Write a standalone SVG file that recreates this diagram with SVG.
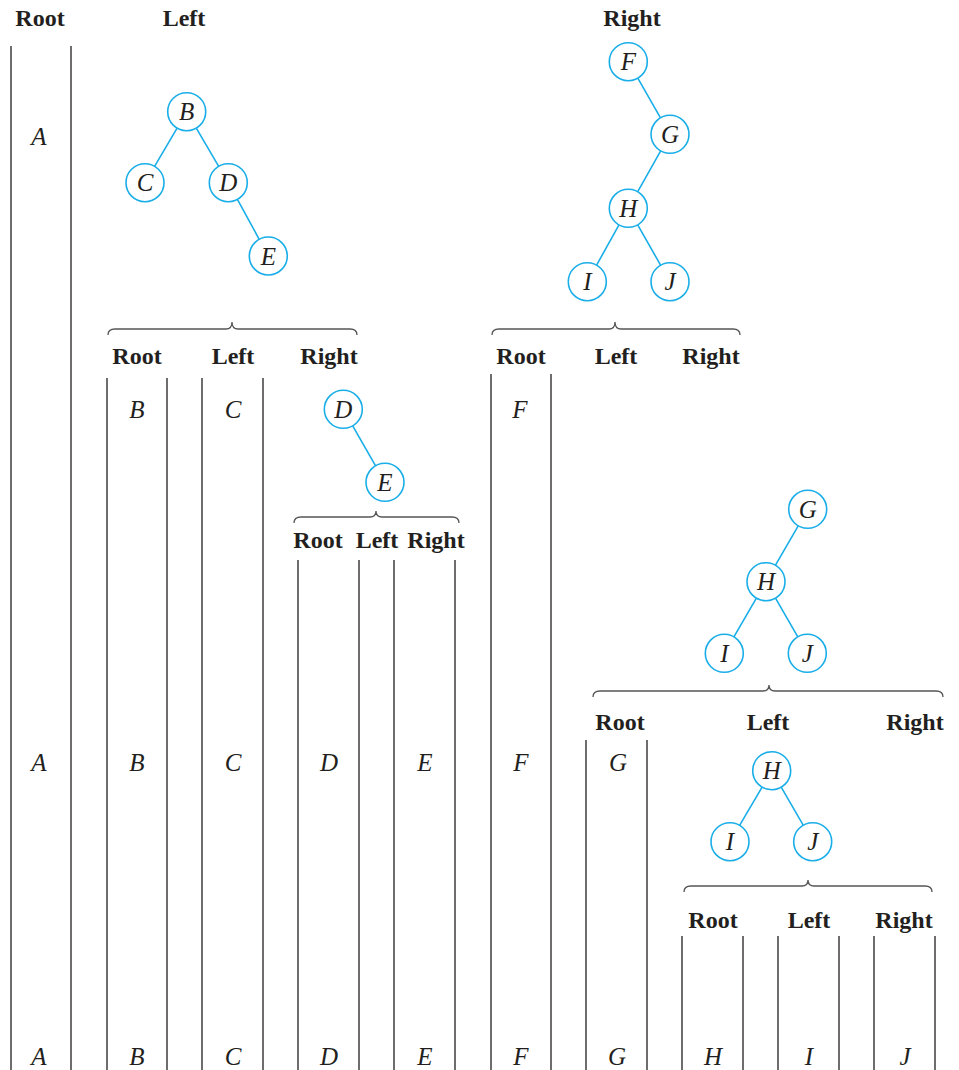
<svg xmlns="http://www.w3.org/2000/svg" width="959" height="1070" viewBox="0 0 959 1070">
<style>
.hd{font-family:"Liberation Serif","Times New Roman",serif;font-weight:bold;font-size:24px;fill:#231f20;text-anchor:middle}
.lt{font-family:"Liberation Serif","Times New Roman",serif;font-style:italic;font-size:25px;fill:#231f20;text-anchor:middle}
.col{stroke:#231f20;stroke-width:1.3;fill:none}
.br{stroke:#555;stroke-width:1.3;fill:none}
.nd{fill:#fff;stroke:#1aaee8;stroke-width:1.6}
.ed{stroke:#1aaee8;stroke-width:1.6;fill:none}
</style>
<rect width="959" height="1070" fill="#fff"/>
<g id="columns">
<path class="col" d="M11,46V1070M71,46V1070M107,378V1070M167,378V1070M202,378V1070M263,378V1070M491,374V1070M551,374V1070M298,560V1070M359,560V1070M394,560V1070M455,560V1070M586,740V1070M647,740V1070M682,936V1070M743,936V1070M778,936V1070M839,936V1070M874,936V1070M935,936V1070"/>
</g>
<g id="braces">
<path class="br" d="M108,335Q108,329 115,329H226Q232,329 232,322Q232,329 238,329H350Q357,329 357,335"/>
<path class="br" d="M492,335Q492,329 499,329H609Q615,329 615,322Q615,329 621,329H733Q740,329 740,335"/>
<path class="br" d="M294,523Q294,517 301,517H370Q376,517 376,511Q376,517 382,517H452Q459,517 459,523"/>
<path class="br" d="M593,697Q593,691 600,691H763Q769,691 769,685Q769,691 775,691H936Q943,691 943,697"/>
<path class="br" d="M684,892Q684,886 691,886H802Q808,886 808,880Q808,886 814,886H925Q932,886 932,892"/>
</g>
<g id="headers">
<text class="hd" x="40" y="26">Root</text>
<text class="hd" x="184" y="26">Left</text>
<text class="hd" x="632" y="26">Right</text>
<text class="hd" x="137" y="364">Root</text>
<text class="hd" x="233" y="364">Left</text>
<text class="hd" x="329" y="364">Right</text>
<text class="hd" x="521" y="364">Root</text>
<text class="hd" x="616" y="364">Left</text>
<text class="hd" x="711" y="364">Right</text>
<text class="hd" x="318" y="548">Root</text>
<text class="hd" x="377" y="548">Left</text>
<text class="hd" x="436" y="548">Right</text>
<text class="hd" x="620" y="730">Root</text>
<text class="hd" x="768" y="730">Left</text>
<text class="hd" x="915" y="730">Right</text>
<text class="hd" x="713" y="928">Root</text>
<text class="hd" x="809" y="928">Left</text>
<text class="hd" x="904" y="928">Right</text>
</g>
<g id="letters">
<text class="lt" x="39" y="145">A</text>
<text class="lt" x="137" y="418">B</text>
<text class="lt" x="233" y="418">C</text>
<text class="lt" x="520" y="418">F</text>
<text class="lt" x="39" y="771">A</text>
<text class="lt" x="137" y="771">B</text>
<text class="lt" x="233" y="771">C</text>
<text class="lt" x="329" y="771">D</text>
<text class="lt" x="425" y="771">E</text>
<text class="lt" x="521" y="771">F</text>
<text class="lt" x="618" y="771">G</text>
<text class="lt" x="39" y="1065">A</text>
<text class="lt" x="137" y="1065">B</text>
<text class="lt" x="233" y="1065">C</text>
<text class="lt" x="329" y="1065">D</text>
<text class="lt" x="425" y="1065">E</text>
<text class="lt" x="521" y="1065">F</text>
<text class="lt" x="617" y="1065">G</text>
<text class="lt" x="713" y="1065">H</text>
<text class="lt" x="809" y="1065">I</text>
<text class="lt" x="905" y="1065">J</text>
</g>
<g id="connectors">
<path class="ed" d="M177.1,128.1L154.6,166.3M196.3,128.1L218.7,166.3M237.4,199.4L259.2,239.3"/>
<path class="ed" d="M637.8,78.2L660.5,117.8M660.7,150.9L637.6,191.8M619,224.9L596.6,265.1M637.7,224.8L660.6,265.2"/>
<path class="ed" d="M352.7,425.8L375.6,465.8"/>
<path class="ed" d="M798.2,525.8L775.5,565.2M756.4,598.1L733.9,636.9M775.5,598.2L797.8,636.8"/>
<path class="ed" d="M762.1,787.1L739.6,825.3M781.2,787.2L803.2,825.2"/>
</g>
<g id="t1-B"><circle class="nd" cx="186.7" cy="111.7" r="19"/><text class="lt" x="186.7" y="120.2">B</text></g>
<g id="t1-C"><circle class="nd" cx="145" cy="182.7" r="19"/><text class="lt" x="145" y="191.2">C</text></g>
<g id="t1-D"><circle class="nd" cx="228.3" cy="182.7" r="19"/><text class="lt" x="228.3" y="191.2">D</text></g>
<g id="t1-E"><circle class="nd" cx="268.3" cy="256" r="19"/><text class="lt" x="268.3" y="264.5">E</text></g>
<g id="t2-F"><circle class="nd" cx="628.3" cy="61.7" r="19"/><text class="lt" x="628.3" y="70.2">F</text></g>
<g id="t2-G"><circle class="nd" cx="670" cy="134.3" r="19"/><text class="lt" x="670" y="142.8">G</text></g>
<g id="t2-H"><circle class="nd" cx="628.3" cy="208.3" r="19"/><text class="lt" x="628.3" y="216.8">H</text></g>
<g id="t2-I"><circle class="nd" cx="587.3" cy="281.7" r="19"/><text class="lt" x="587.3" y="290.2">I</text></g>
<g id="t2-J"><circle class="nd" cx="670" cy="281.7" r="19"/><text class="lt" x="670" y="290.2">J</text></g>
<g id="t3-D"><circle class="nd" cx="343.3" cy="409.3" r="19"/><text class="lt" x="343.3" y="417.8">D</text></g>
<g id="t3-E"><circle class="nd" cx="385" cy="482.3" r="19"/><text class="lt" x="385" y="490.8">E</text></g>
<g id="t4-G"><circle class="nd" cx="807.7" cy="509.3" r="19"/><text class="lt" x="807.7" y="517.8">G</text></g>
<g id="t4-H"><circle class="nd" cx="766" cy="581.7" r="19"/><text class="lt" x="766" y="590.2">H</text></g>
<g id="t4-I"><circle class="nd" cx="724.3" cy="653.3" r="19"/><text class="lt" x="724.3" y="661.8">I</text></g>
<g id="t4-J"><circle class="nd" cx="807.3" cy="653.3" r="19"/><text class="lt" x="807.3" y="661.8">J</text></g>
<g id="t5-H"><circle class="nd" cx="771.7" cy="770.7" r="19"/><text class="lt" x="771.7" y="779.2">H</text></g>
<g id="t5-I"><circle class="nd" cx="730" cy="841.7" r="19"/><text class="lt" x="730" y="850.2">I</text></g>
<g id="t5-J"><circle class="nd" cx="812.7" cy="841.7" r="19"/><text class="lt" x="812.7" y="850.2">J</text></g>
</svg>
